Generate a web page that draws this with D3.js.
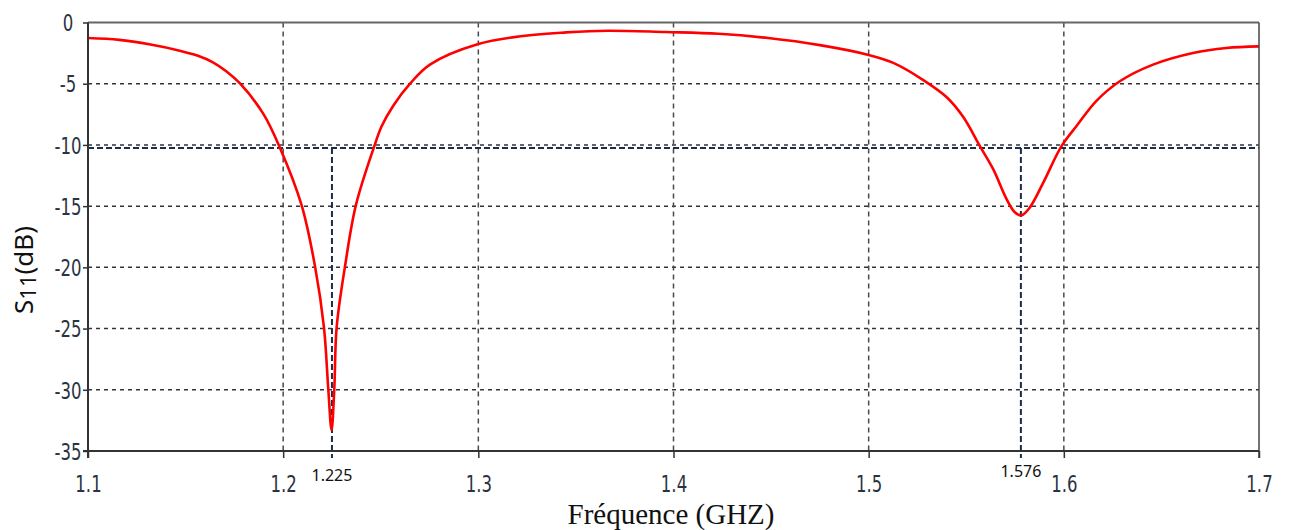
<!DOCTYPE html>
<html>
<head>
<meta charset="utf-8">
<script src="https://cdn.jsdelivr.net/npm/d3@7"></script>
<style>
  body { margin: 0; background: #fff; }
</style>
</head>
<body>
<div id="chart"></div>
<script>
// S11 response
const freqs = [1.100, 1.116, 1.132, 1.147, 1.156, 1.164, 1.171, 1.178, 1.190, 1.198,
  1.2094, 1.2163, 1.2209, 1.2231, 1.2248, 1.2262, 1.2274, 1.2317, 1.2373, 1.2467,
  1.2504, 1.2564, 1.265, 1.2752, 1.300, 1.324, 1.345, 1.366, 1.396, 1.423,
  1.4485, 1.475, 1.500, 1.5126, 1.528, 1.540, 1.5484, 1.557, 1.5638, 1.5706,
  1.5749, 1.5783, 1.5826, 1.5894, 1.5988, 1.6065, 1.6167, 1.6287, 1.6457, 1.6662,
  1.6833, 1.700]
const s11 = [-1.27, -1.42, -1.80, -2.30, -2.70, -3.25, -4.00, -5.0, -7.5, -10.1,
  -14.9, -19.9, -24.9, -29.9, -33.3, -29.9, -24.9, -19.9, -14.9, -10.1,
  -8.5, -6.8, -5.0, -3.44, -1.76, -1.08, -0.81, -0.67, -0.78, -0.92,
  -1.27, -1.85, -2.65, -3.30, -4.7, -6.1, -7.7, -10.1, -11.98, -14.4,
  -15.5, -15.75, -15.1, -13.1, -10.1, -8.46, -6.4, -4.8, -3.44, -2.49,
  -2.08, -1.95]

const xTicks = [1.1, 1.2, 1.3, 1.4, 1.5, 1.6, 1.7]
const yTicks = [0, -5, -10, -15, -20, -25, -30, -35]
const markerFreqs = [1.225, 1.578]
const markerLabels = ['1.225', '1.576']
const markerLevel = -10.25

const W = 1289, H = 530
const mLeft = 88, mRight = 1259, mTop = 22.5, mBottom = 451

const svg = d3.select('#chart').append('svg')
  .attr('width', W).attr('height', H)
  .style('display', 'block')

svg.append('rect').attr('width', W).attr('height', H).attr('fill', '#fff')

const x = d3.scaleLinear().domain([1.1, 1.7]).range([mLeft, mRight])
const y = d3.scaleLinear().domain([0, -35]).range([mTop, mBottom])

// ---- grid ----
svg.append('g').selectAll('line')
  .data(yTicks.filter(d => d !== 0 && d !== -35))
  .join('line')
  .attr('x1', mLeft).attr('x2', mRight)
  .attr('y1', d => y(d)).attr('y2', d => y(d))
  .attr('stroke', '#30353d').attr('stroke-width', 1.5)
  .attr('stroke-dasharray', '4,4')

svg.append('g').selectAll('line')
  .data(xTicks.filter(d => d !== 1.1 && d !== 1.7))
  .join('line')
  .attr('x1', d => x(d)).attr('x2', d => x(d))
  .attr('y1', mTop).attr('y2', mBottom)
  .attr('stroke', '#4a4a4a').attr('stroke-width', 1.5)
  .attr('stroke-dasharray', '5,4')

// ---- markers (-10 dB level + resonances) ----
const navy = '#1c2d4a'
svg.append('line')
  .attr('x1', mLeft).attr('x2', mRight)
  .attr('y1', y(markerLevel)).attr('y2', y(markerLevel))
  .attr('stroke', navy).attr('stroke-width', 2)
  .attr('stroke-dasharray', '6,3')

svg.append('g').selectAll('line')
  .data(markerFreqs)
  .join('line')
  .attr('x1', d => x(d)).attr('x2', d => x(d))
  .attr('y1', y(markerLevel)).attr('y2', mBottom + 7)
  .attr('stroke', navy).attr('stroke-width', 2)
  .attr('stroke-dasharray', '6,3')

// ---- curve ----
const pts = freqs.map((f, i) => [f, s11[i]])
svg.append('path')
  .datum(pts)
  .attr('fill', 'none')
  .attr('stroke', '#ff0000')
  .attr('stroke-width', 2.6)
  .attr('stroke-linejoin', 'round')
  .attr('d', d3.line().x(d => x(d[0])).y(d => y(d[1])).curve(d3.curveCatmullRom.alpha(0.5)))

// ---- frame & axes ----
svg.append('line')
  .attr('x1', mLeft).attr('x2', mRight).attr('y1', mTop).attr('y2', mTop)
  .attr('stroke', '#666').attr('stroke-width', 2)
svg.append('line')
  .attr('x1', mRight).attr('x2', mRight).attr('y1', mTop).attr('y2', mBottom + 7)
  .attr('stroke', '#444').attr('stroke-width', 1.5)

const tickColor = '#2a3340'
const sx = 0.72
const xAxis = svg.append('g')
  .attr('transform', `translate(0,${mBottom})`)
  .call(d3.axisBottom(x).tickValues(xTicks).tickFormat(d3.format('.1f'))
    .tickSize(7).tickSizeOuter(0))
xAxis.select('.domain').attr('stroke', '#333').attr('stroke-width', 2)
  .attr('d', `M${mLeft - 5},0H${mRight}`)
xAxis.selectAll('.tick line').attr('stroke', '#333').attr('stroke-width', 1.5)
xAxis.selectAll('.tick text')
  .attr('y', 41).attr('dy', null)
  .attr('transform', `scale(${sx},1)`)
  .attr('fill', tickColor)
  .style('font-family', 'DejaVu Sans, Verdana, sans-serif')
  .style('font-size', '23px')

const yAxis = svg.append('g')
  .attr('transform', `translate(${mLeft},0)`)
  .call(d3.axisLeft(y).tickValues(yTicks).tickFormat(d => String(d))
    .tickSize(5).tickSizeOuter(0))
yAxis.select('.domain').attr('stroke', '#333').attr('stroke-width', 2)
  .attr('d', `M0,${mTop}V${mBottom + 7}`)
yAxis.selectAll('.tick line').attr('stroke', '#333').attr('stroke-width', 1.5)
yAxis.selectAll('.tick text')
  .attr('x', -20 / sx).attr('dy', '0.36em')
  .attr('text-anchor', 'middle')
  .attr('transform', `scale(${sx},1)`)
  .attr('fill', tickColor)
  .style('font-family', 'DejaVu Sans, Verdana, sans-serif')
  .style('font-size', '23px')

// ---- marker labels ----
svg.append('g').selectAll('text')
  .data(markerFreqs)
  .join('text')
  .attr('x', d => x(d))
  .attr('y', (d, i) => i === 0 ? 481 : 477)
  .attr('text-anchor', 'middle')
  .attr('fill', '#111')
  .style('font-family', 'Noto Sans, sans-serif')
  .style('font-size', '16px')
  .text((d, i) => markerLabels[i])

// ---- axis titles ----
svg.append('text')
  .attr('x', 671).attr('y', 524)
  .attr('text-anchor', 'middle')
  .attr('fill', '#111')
  .style('font-family', 'Liberation Serif, Times New Roman, serif')
  .style('font-size', '29px')
  .text('Fréquence (GHZ)')

const yTitle = svg.append('text')
  .attr('transform', 'translate(33,270) rotate(-90)')
  .attr('text-anchor', 'middle')
  .attr('fill', '#111')
  .style('font-family', 'Noto Sans, sans-serif')
  .style('font-size', '26px')
yTitle.append('tspan').text('S')
yTitle.append('tspan').attr('dy', 3).style('font-size', '22px').text('11')
yTitle.append('tspan').attr('dy', -3).text('(dB)')
</script>
</body>
</html>
